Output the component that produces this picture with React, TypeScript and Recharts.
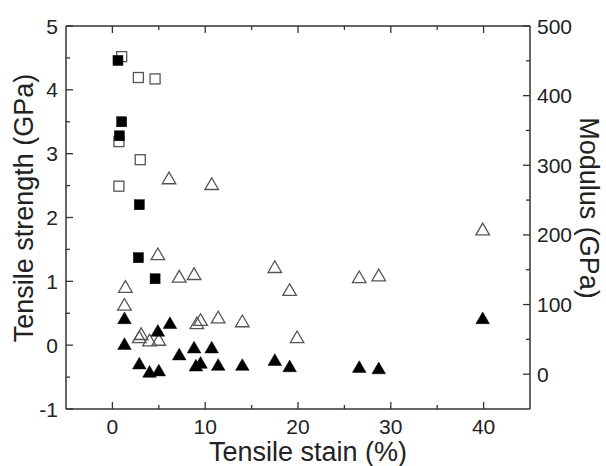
import React from 'react';
import { ScatterChart, Scatter, XAxis, YAxis } from 'recharts';

// filled squares: strength (left axis)
const fsqStrain = [0.6, 1.0, 0.75, 2.9, 2.8, 4.6];
const fsqValue = [4.46, 3.5, 3.28, 2.2, 1.37, 1.04];

// open squares: modulus (right axis)
const osqStrain = [1.0, 2.8, 4.6, 0.7, 3.0, 0.7];
const osqValue = [456, 426, 424, 334, 308, 270];

// open triangles: strength (left axis)
const otrStrain = [1.4, 1.3, 2.9, 3.1, 4.0, 5.0, 4.9, 6.1, 7.2, 8.8, 9.1, 9.5, 10.7, 11.4, 14.0, 17.5, 19.1, 19.9, 26.6, 28.7, 39.9];
const otrValue = [0.91, 0.63, 0.12, 0.17, 0.07, 0.08, 1.42, 2.61, 1.07, 1.11, 0.34, 0.39, 2.52, 0.43, 0.37, 1.22, 0.86, 0.12, 1.06, 1.09, 1.81];

// filled triangles: modulus (right axis)
const ftrStrain = [1.3, 1.3, 2.9, 4.0, 5.0, 4.9, 6.2, 7.2, 8.8, 9.0, 9.5, 10.7, 11.4, 14.0, 17.5, 19.1, 26.6, 28.7, 39.9];
const ftrValue = [80, 43, 15, 3, 5, 62, 73, 28, 38, 12, 16, 38, 13, 13, 20, 11, 10, 8, 80];

const xTicks = [0, 5, 10, 15, 20, 25, 30, 35, 40];
const leftTicks = [-1, -0.5, 0, 0.5, 1, 1.5, 2, 2.5, 3, 3.5, 4, 4.5, 5];
const rightTicks = [0, 50, 100, 150, 200, 250, 300, 350, 400, 450, 500];

const zip = (xs: number[], ys: number[]) => xs.map((x, i) => ({ x, y: ys[i] }));

const FONT = '"Liberation Sans", Arial, sans-serif';
const AXIS = '#333';
const TICK_FONT = 21;

const Square = ({ cx, cy, filled }: any) => (
  <rect
    x={cx - 5}
    y={cy - 5}
    width={10}
    height={10}
    fill={filled ? '#000' : 'none'}
    stroke={filled ? '#000' : '#555'}
    strokeWidth={filled ? 0.5 : 1.3}
  />
);

const Triangle = ({ cx, cy, filled }: any) => (
  <path
    d={`M${cx},${cy - 6.5} L${cx + 6.8},${cy + 5.2} L${cx - 6.8},${cy + 5.2} Z`}
    fill={filled ? '#000' : 'none'}
    stroke={filled ? '#000' : '#555'}
    strokeWidth={filled ? 0.5 : 1.3}
  />
);

const Tick = (props: any) => {
  const { x, y, payload, side } = props;
  const v = payload.value;
  let major = false;
  if (side === 'left') major = Number.isInteger(v);
  else if (side === 'right') major = v % 100 === 0;
  else major = v % 10 === 0;
  const len = major ? 7 : 4;

  if (side === 'left') {
    return (
      <g>
        <line x1={x} y1={y} x2={x + len} y2={y} stroke={AXIS} strokeWidth={1.3} />
        {major && (
          <text x={x - 8} y={y} dy="0.36em" textAnchor="end" fontSize={TICK_FONT} fontFamily={FONT} fill="#222">
            {v}
          </text>
        )}
      </g>
    );
  }
  if (side === 'right') {
    return (
      <g>
        <line x1={x} y1={y} x2={x - len} y2={y} stroke={AXIS} strokeWidth={1.3} />
        {major && (
          <text x={x + 7} y={y} dy="0.36em" textAnchor="start" fontSize={TICK_FONT} fontFamily={FONT} fill="#222">
            {v}
          </text>
        )}
      </g>
    );
  }
  if (side === 'bottom') {
    return (
      <g>
        <line x1={x} y1={y} x2={x} y2={y - len} stroke={AXIS} strokeWidth={1.3} />
        {major && (
          <text x={x} y={y + 10} dy="0.72em" textAnchor="middle" fontSize={TICK_FONT} fontFamily={FONT} fill="#222">
            {v}
          </text>
        )}
      </g>
    );
  }
  return <line x1={x} y1={y} x2={x} y2={y + len} stroke={AXIS} strokeWidth={1.3} />;
};

export default function App() {
  return (
    <div style={{ position: 'absolute', left: 0, top: 0, width: 606, height: 466, background: '#fff' }}>
      <ScatterChart width={606} height={466} margin={{ top: 25, right: 75, bottom: 56, left: 65 }}>
        <XAxis
          xAxisId="b"
          type="number"
          dataKey="x"
          domain={[-5, 45]}
          allowDataOverflow
          ticks={xTicks}
          interval={0}
          height={1}
          tickSize={0}
          tickMargin={0}
          tickLine={false}
          axisLine={{ stroke: AXIS, strokeWidth: 1.5 }}
          tick={(p: any) => <Tick {...p} side="bottom" />}
        />
        <XAxis
          xAxisId="t"
          orientation="top"
          type="number"
          dataKey="x"
          domain={[-5, 45]}
          allowDataOverflow
          ticks={xTicks}
          interval={0}
          height={1}
          tickSize={0}
          tickMargin={0}
          tickLine={false}
          axisLine={{ stroke: AXIS, strokeWidth: 1.5 }}
          tick={(p: any) => <Tick {...p} side="top" />}
        />
        <YAxis
          yAxisId="L"
          type="number"
          dataKey="y"
          domain={[-1, 5]}
          allowDataOverflow
          ticks={leftTicks}
          interval={0}
          width={1}
          tickSize={0}
          tickMargin={0}
          tickLine={false}
          axisLine={{ stroke: AXIS, strokeWidth: 1.5 }}
          tick={(p: any) => <Tick {...p} side="left" />}
        />
        <YAxis
          yAxisId="R"
          orientation="right"
          type="number"
          dataKey="y"
          domain={[-50, 500]}
          allowDataOverflow
          ticks={rightTicks}
          interval={0}
          width={1}
          tickSize={0}
          tickMargin={0}
          tickLine={false}
          axisLine={{ stroke: AXIS, strokeWidth: 1.5 }}
          tick={(p: any) => <Tick {...p} side="right" />}
        />
        <Scatter
          data={zip(osqStrain, osqValue)}
          xAxisId="b"
          yAxisId="R"
          isAnimationActive={false}
          shape={(p: any) => <Square {...p} filled={false} />}
        />
        <Scatter
          data={zip(otrStrain, otrValue)}
          xAxisId="b"
          yAxisId="L"
          isAnimationActive={false}
          shape={(p: any) => <Triangle {...p} filled={false} />}
        />
        <Scatter
          data={zip(fsqStrain, fsqValue)}
          xAxisId="b"
          yAxisId="L"
          isAnimationActive={false}
          shape={(p: any) => <Square {...p} filled />}
        />
        <Scatter
          data={zip(ftrStrain, ftrValue)}
          xAxisId="b"
          yAxisId="R"
          isAnimationActive={false}
          shape={(p: any) => <Triangle {...p} filled />}
        />
      </ScatterChart>
      <svg
        width={606}
        height={466}
        style={{ position: 'absolute', left: 0, top: 0, pointerEvents: 'none' }}
      >
        <text x={33} y={208} transform="rotate(-90 33 208)" textAnchor="middle" fontSize={27} fontFamily={FONT} fill="#222">
          Tensile strength (GPa)
        </text>
        <text x={580} y={208} transform="rotate(90 580 208)" textAnchor="middle" fontSize={27} fontFamily={FONT} fill="#222">
          Modulus (GPa)
        </text>
        <text x={308} y={461} textAnchor="middle" fontSize={27} fontFamily={FONT} fill="#222">
          Tensile stain (%)
        </text>
      </svg>
    </div>
  );
}
